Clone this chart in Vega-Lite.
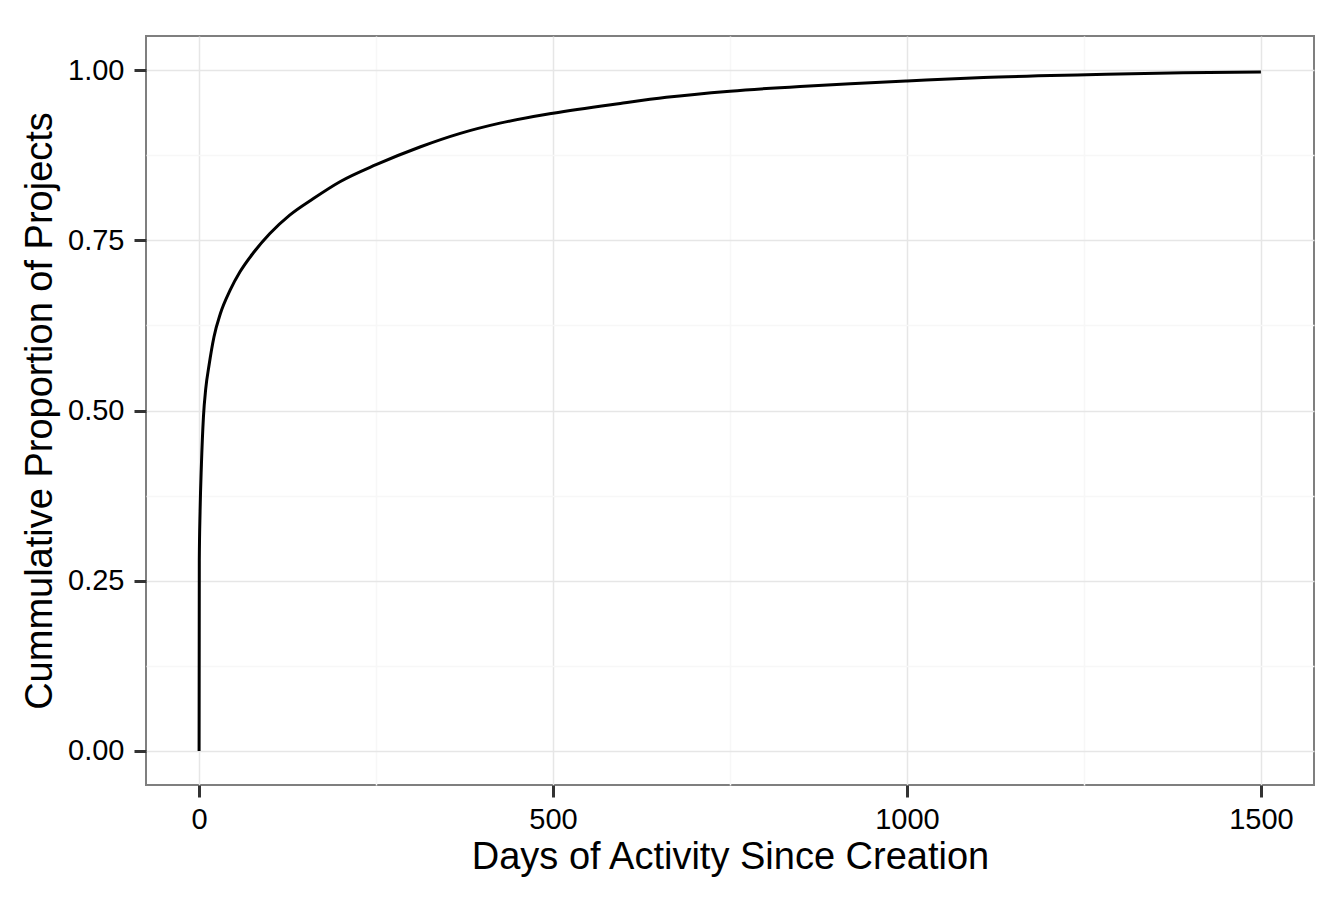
{
  "$schema": "https://vega.github.io/schema/vega-lite/v6.json",
  "width": 1168,
  "height": 749,
  "autosize": {"type": "none"},
  "padding": {"left": 146, "top": 36, "right": 25, "bottom": 115},
  "background": "white",
  "config": {
    "font": "Liberation Sans",
    "view": {"stroke": "#7f7f7f", "strokeWidth": 2}
  },
  "data": {
    "values": [
      {"days": 0, "prop": 0},
      {"days": 0.3, "prop": 0.28},
      {"days": 1.4, "prop": 0.352},
      {"days": 3.3, "prop": 0.421},
      {"days": 6.1, "prop": 0.49},
      {"days": 9.4, "prop": 0.532},
      {"days": 14, "prop": 0.566},
      {"days": 21, "prop": 0.608},
      {"days": 30, "prop": 0.642},
      {"days": 44, "prop": 0.677},
      {"days": 58, "prop": 0.704},
      {"days": 77, "prop": 0.732},
      {"days": 100, "prop": 0.76},
      {"days": 128, "prop": 0.787},
      {"days": 161, "prop": 0.811},
      {"days": 199, "prop": 0.836},
      {"days": 250, "prop": 0.861},
      {"days": 312, "prop": 0.887},
      {"days": 369, "prop": 0.907},
      {"days": 425, "prop": 0.922},
      {"days": 500, "prop": 0.9365},
      {"days": 595, "prop": 0.951},
      {"days": 660, "prop": 0.960},
      {"days": 750, "prop": 0.969},
      {"days": 849, "prop": 0.976},
      {"days": 920, "prop": 0.980},
      {"days": 1000, "prop": 0.984},
      {"days": 1108, "prop": 0.989},
      {"days": 1254, "prop": 0.993},
      {"days": 1390, "prop": 0.996},
      {"days": 1500, "prop": 0.997}
    ]
  },
  "layer": [
    {
      "mark": {"type": "line", "opacity": 0, "strokeWidth": 0},
      "encoding": {
        "x": {
          "field": "days", "type": "quantitative",
          "scale": {"domain": [-75, 1575], "nice": false, "zero": false},
          "axis": {"orient": "bottom", "values": [250, 750, 1250], "grid": true, "gridColor": "#f7f7f7", "gridWidth": 1.5, "labels": false, "ticks": false, "domain": false, "title": null}
        },
        "y": {
          "field": "prop", "type": "quantitative",
          "scale": {"domain": [-0.05, 1.05], "nice": false, "zero": false},
          "axis": {"orient": "left", "values": [0.125, 0.375, 0.625, 0.875], "grid": true, "gridColor": "#f7f7f7", "gridWidth": 1.5, "labels": false, "ticks": false, "domain": false, "title": null}
        }
      }
    },
    {
      "mark": {"type": "line", "color": "black", "strokeWidth": 3, "interpolate": "monotone"},
      "encoding": {
        "x": {
          "field": "days", "type": "quantitative",
          "scale": {"domain": [-75, 1575], "nice": false, "zero": false},
          "axis": {
            "orient": "bottom", "values": [0, 500, 1000, 1500], "format": "d",
            "grid": true, "gridColor": "#e6e6e6", "gridWidth": 1.5,
            "domain": false, "tickColor": "#333333", "tickWidth": 3, "tickSize": 12,
            "labelFontSize": 29, "labelColor": "black", "labelPadding": 8,
            "title": "Days of Activity Since Creation", "titleFontSize": 38, "titleFontWeight": "normal", "titleColor": "black", "titlePadding": 4
          }
        },
        "y": {
          "field": "prop", "type": "quantitative",
          "scale": {"domain": [-0.05, 1.05], "nice": false, "zero": false},
          "axis": {
            "orient": "left", "values": [0, 0.25, 0.5, 0.75, 1], "format": ".2f",
            "grid": true, "gridColor": "#e6e6e6", "gridWidth": 1.5,
            "domain": false, "tickColor": "#333333", "tickWidth": 3, "tickSize": 12,
            "labelFontSize": 29, "labelColor": "black", "labelPadding": 10,
            "title": "Cummulative Proportion of Projects", "titleFontSize": 38, "titleFontWeight": "normal", "titleColor": "black", "titlePadding": 8
          }
        }
      }
    }
  ],
  "resolve": {"axis": {"x": "independent", "y": "independent"}}
}
